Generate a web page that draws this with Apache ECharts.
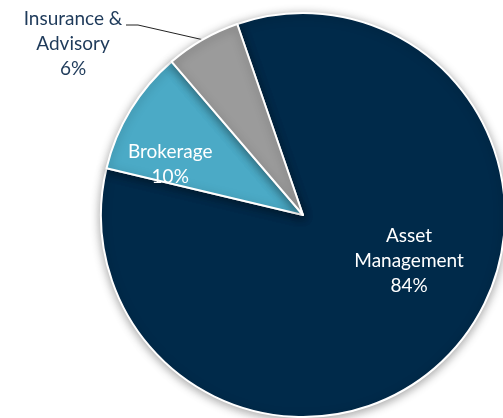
<!DOCTYPE html>
<html>
<head>
<meta charset="utf-8">
<script src="https://cdn.jsdelivr.net/npm/echarts@6/dist/echarts.min.js"></script>
<style>
  html, body { margin: 0; padding: 0; background: #fff; }
  #main { width: 503px; height: 418px; }
</style>
</head>
<body>
<div id="main"></div>
<script>
// segment data
var segments = ['Asset\nManagement', 'Brokerage', 'Insurance &\nAdvisory'];
var shares = [84, 10, 6];
var colors = ['#002A4A', '#4BAAC6', '#9B9B9B'];

var chart = echarts.init(document.getElementById('main'), null, { renderer: 'canvas' });

var pieData = segments.map(function (name, i) {
  var item = {
    name: name,
    value: shares[i],
    itemStyle: { color: colors[i] }
  };
  if (i == 0) {
    item.label = { position: 'inside', offset: [29, -24], color: '#fff' };
  } else if (i == 1) {
    item.label = { position: 'inside', offset: [-44, 4], color: '#fff' };
  } else {
    // outside label with leader line
    item.label = {
      position: 'outside',
      color: '#1E3A5A',
      padding: [38, 0, 0, 0],
      formatter: function (p) {
        return p.name.split('\n').map(function (s) { return '{a|' + s + '}'; }).join('\n') +
          '\n{a|' + p.value + '%}';
      },
      rich: {
        a: { width: 106, align: 'center', color: '#1E3A5A', fontSize: 19, lineHeight: 25, fontFamily: 'Lato' }
      }
    };
    item.labelLine = { show: true, length: 10, length2: 12, lineStyle: { color: '#222', width: 1 } };
  }
  return item;
});

var option = {
  backgroundColor: '#ffffff',
  animation: false,
  series: [{
    type: 'pie',
    center: [303, 215],
    radius: [0, 202],
    startAngle: 109,
    clockwise: true,
    avoidLabelOverlap: false,
    itemStyle: {
      borderColor: '#fff',
      borderWidth: 2,
      shadowBlur: 10,
      shadowColor: 'rgba(0,0,0,0.35)',
      shadowOffsetX: 0,
      shadowOffsetY: 2
    },
    label: {
      show: true,
      fontFamily: 'Lato',
      fontSize: 19,
      lineHeight: 25,
      formatter: function (p) {
        return p.name + '\n' + p.value + '%';
      }
    },
    labelLine: { show: false },
    labelLayout: function (params) {
      if (params.dataIndex == 2) {
        return { x: 126, y: 25, align: 'right', verticalAlign: 'middle' };
      }
      return {};
    },
    emphasis: { disabled: true },
    data: pieData
  }]
};

chart.setOption(option);
</script>
</body>
</html>
